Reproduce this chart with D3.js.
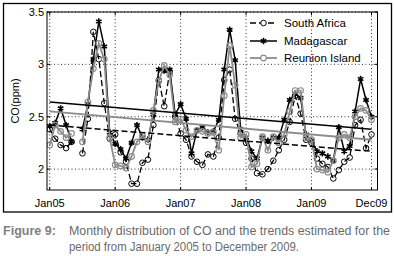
<!DOCTYPE html>
<html><head><meta charset="utf-8">
<script src="https://cdn.jsdelivr.net/npm/d3@7/dist/d3.min.js"></script>
<style>
html,body{margin:0;padding:0;background:#fff;}
svg{display:block;font-family:"Liberation Sans",Arial,sans-serif;}
</style></head>
<body><svg id="c" width="394" height="256"></svg>
<script>
// month index 0 = Jan 2005 ... 59 = Dec 2009
const monthIdx = d3.range(60);
const xTickLabels = ["Jan05","Jan06","Jan07","Jan08","Jan09","Dec09"];
const xTickIdx = [0,12,24,36,48,59];
const yTicks = [2,2.5,3,3.5];

const southAfrica = [2.38,2.29,2.23,2.20,2.26,null,2.15,2.48,3.31,3.05,2.63,2.29,
  2.33,2.16,2.07,1.86,1.86,2.06,2.09,2.42,2.85,2.60,2.93,2.50,
  2.34,2.28,2.12,2.07,2.04,2.14,2.12,2.30,2.85,2.95,2.48,2.34,
  2.25,2.10,1.96,1.95,2.00,2.08,2.18,2.28,2.45,2.70,2.53,2.28,
  2.25,2.10,2.05,2.02,1.91,1.99,2.07,2.11,2.42,2.47,2.20,2.33];
const madagascar = [2.41,2.44,2.58,2.42,2.26,null,2.38,2.62,3.05,3.41,3.17,2.35,
  2.24,2.19,2.10,2.25,2.42,2.30,2.28,2.52,2.95,2.94,2.95,2.52,
  2.62,2.48,2.15,2.37,2.40,2.35,2.36,2.47,2.95,3.33,3.04,2.38,
  2.30,2.17,2.10,2.30,2.27,2.30,2.30,2.47,2.66,2.72,2.68,2.33,
  2.27,2.17,2.15,2.12,2.08,2.40,2.17,2.22,2.55,2.86,2.66,2.50];
const reunion = [2.23,2.42,2.36,2.30,2.34,null,2.26,2.64,2.96,3.20,3.05,2.30,
  2.04,2.03,2.01,2.12,2.26,2.32,2.26,2.56,2.84,2.99,2.90,2.45,
  2.48,2.37,2.31,2.37,2.36,2.34,2.35,2.18,2.70,3.18,2.80,2.30,
  2.33,2.02,2.05,2.31,2.18,2.31,2.25,2.33,2.55,2.75,2.75,2.30,
  2.28,2.00,1.99,1.97,2.08,2.30,2.33,2.30,2.50,2.58,2.56,2.47];
// trend line end values (Jan05, Dec09)
const trendSA = [2.42,2.17];
const trendMad = [2.64,2.38];
const trendReu = [2.55,2.28];

const seriesNames = ["South Africa","Madagascar","Reunion Island"];

const svg = d3.select("#c");
const L=47,R=377.5,T=12,B=190;
const x = d3.scaleLinear().domain([-0.5,60.1]).range([L,R]);
const y = d3.scaleLinear().domain([1.8,3.5]).range([B,T]);

// outer frame
svg.append("rect").attr("x",3.5).attr("y",3.5).attr("width",388).attr("height",208.5)
  .attr("fill","none").attr("stroke","#000").attr("stroke-width",1.3);

// grid
const g = svg.append("g");
g.selectAll(".gy").data(yTicks).join("line")
  .attr("x1",L).attr("x2",R).attr("y1",d=>y(d)).attr("y2",d=>y(d))
  .attr("stroke","#000").attr("stroke-width",0.8).attr("stroke-dasharray","1,2.5");
g.selectAll(".gx").data(xTickIdx).join("line")
  .attr("x1",d=>x(d)).attr("x2",d=>x(d)).attr("y1",T).attr("y2",B)
  .attr("stroke","#000").attr("stroke-width",0.8).attr("stroke-dasharray","1,2.5");

svg.append("clipPath").attr("id","pc").append("rect")
  .attr("x",L).attr("y",T).attr("width",R-L).attr("height",B-T);
const plot = svg.append("g").attr("clip-path","url(#pc)");

const line = d3.line().defined(d=>d!=null).x((d,i)=>x(i)).y(d=>y(d));

function drawTrend(t,color,dash,w){
  plot.append("line").attr("x1",x(0)).attr("x2",x(59)).attr("y1",y(t[0])).attr("y2",y(t[1]))
    .attr("stroke",color).attr("stroke-width",w).attr("stroke-dasharray",dash);
}

// South Africa
plot.append("path").attr("d",line(southAfrica)).attr("fill","none")
  .attr("stroke","#000").attr("stroke-width",1.3).attr("stroke-dasharray","6,3");
plot.selectAll(".sa").data(southAfrica.map((v,i)=>[i,v]).filter(d=>d[1]!=null)).join("circle")
  .attr("cx",d=>x(d[0])).attr("cy",d=>y(d[1])).attr("r",2.8)
  .attr("fill","none").attr("stroke","#000").attr("stroke-width",1);
// Madagascar
plot.append("path").attr("d",line(madagascar)).attr("fill","none")
  .attr("stroke","#000").attr("stroke-width",1.5);
const star = d3.symbol().type(d3.symbolAsterisk).size(28);
plot.selectAll(".md").data(madagascar.map((v,i)=>[i,v]).filter(d=>d[1]!=null)).join("path")
  .attr("d",star).attr("transform",d=>`translate(${x(d[0])},${y(d[1])})`)
  .attr("fill","none").attr("stroke","#000").attr("stroke-width",1.6);
// Reunion
plot.append("path").attr("d",line(reunion)).attr("fill","none")
  .attr("stroke","#8c8c8c").attr("stroke-width",1.8);
plot.selectAll(".ru").data(reunion.map((v,i)=>[i,v]).filter(d=>d[1]!=null)).join("circle")
  .attr("cx",d=>x(d[0])).attr("cy",d=>y(d[1])).attr("r",2.8)
  .attr("fill","none").attr("stroke","#8c8c8c").attr("stroke-width",1.2);

drawTrend(trendSA,"#000","6,3",1.5);
drawTrend(trendMad,"#000",null,1.6);
drawTrend(trendReu,"#8c8c8c",null,1.8);

// box
svg.append("rect").attr("x",L).attr("y",T).attr("width",R-L).attr("height",B-T)
  .attr("fill","none").attr("stroke","#000").attr("stroke-width",1);
// ticks inward
const tk=3;
yTicks.forEach(v=>{
  svg.append("line").attr("x1",L).attr("x2",L+tk).attr("y1",y(v)).attr("y2",y(v)).attr("stroke","#000");
  svg.append("line").attr("x1",R).attr("x2",R-tk).attr("y1",y(v)).attr("y2",y(v)).attr("stroke","#000");
});
xTickIdx.forEach(v=>{
  svg.append("line").attr("x1",x(v)).attr("x2",x(v)).attr("y1",B).attr("y2",B-tk).attr("stroke","#000");
  svg.append("line").attr("x1",x(v)).attr("x2",x(v)).attr("y1",T).attr("y2",T+tk).attr("stroke","#000");
});
// tick labels
svg.selectAll(".yl").data(yTicks).join("text")
  .attr("x",L-3).attr("y",d=>y(d)+4).attr("text-anchor","end")
  .attr("font-size",11).text(d=>d);
svg.selectAll(".xl").data(xTickIdx).join("text")
  .attr("x",d=>x(d)).attr("y",B+17).attr("text-anchor","middle")
  .attr("font-size",11).text((d,i)=>xTickLabels[i]);
svg.append("text").attr("transform",`translate(19,101) rotate(-90)`)
  .attr("text-anchor","middle").attr("font-size",11).text("CO(ppm)");

// legend
const leg = svg.append("g");
const ly=[23,41,58];
leg.append("line").attr("x1",250).attr("x2",277).attr("y1",ly[0]).attr("y2",ly[0])
  .attr("stroke","#000").attr("stroke-width",1.3).attr("stroke-dasharray","6,3");
leg.append("circle").attr("cx",263.5).attr("cy",ly[0]).attr("r",2.8).attr("fill","#fff").attr("stroke","#000");
leg.append("line").attr("x1",250).attr("x2",277).attr("y1",ly[1]).attr("y2",ly[1])
  .attr("stroke","#000").attr("stroke-width",1.5);
leg.append("path").attr("d",star).attr("transform",`translate(263.5,${ly[1]})`)
  .attr("fill","none").attr("stroke","#000").attr("stroke-width",1.6);
leg.append("line").attr("x1",250).attr("x2",277).attr("y1",ly[2]).attr("y2",ly[2])
  .attr("stroke","#8c8c8c").attr("stroke-width",1.8);
leg.append("circle").attr("cx",263.5).attr("cy",ly[2]).attr("r",2.8).attr("fill","#fff").attr("stroke","#8c8c8c").attr("stroke-width",1.2);
leg.selectAll(".lt").data(seriesNames).join("text")
  .attr("x",284).attr("y",(d,i)=>ly[i]+4).attr("font-size",11.5).text(d=>d);

// caption (condensed to match the narrow face of the original)
svg.append("text").attr("x",3).attr("y",235).attr("font-size",12.5).attr("font-weight","bold")
  .attr("fill","#808080").attr("textLength",53).attr("lengthAdjust","spacingAndGlyphs").text("Figure 9:");
svg.append("text").attr("x",69).attr("y",235).attr("font-size",12.5).attr("fill","#6b6b6b")
  .attr("textLength",321).attr("lengthAdjust","spacingAndGlyphs")
  .text("Monthly distribution of CO and the trends estimated for the");
svg.append("text").attr("x",69).attr("y",251).attr("font-size",12.5).attr("fill","#6b6b6b")
  .attr("textLength",230).attr("lengthAdjust","spacingAndGlyphs")
  .text("period from January 2005 to December 2009.");
</script></body></html>
